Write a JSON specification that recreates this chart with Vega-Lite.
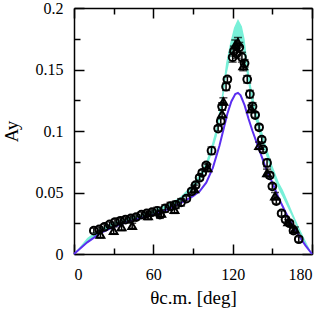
{
  "$schema": "https://vega.github.io/schema/vega-lite/v6.json",
  "width": 238,
  "height": 246,
  "autosize": "none",
  "padding": {"left": 74, "top": 8, "right": 18, "bottom": 59},
  "config": {
    "view": {"stroke": null},
    "font": "Liberation Serif",
    "axis": {"grid": false, "domainColor": "black", "tickColor": "black", "domainWidth": 1.5, "tickWidth": 1.5, "labelColor": "black", "titleColor": "black", "labelFont": "Liberation Serif", "titleFont": "Liberation Serif", "labelFontSize": 16, "titleFontSize": 19, "titleFontWeight": "normal"}
  },
  "datasets": {
    "band": [
      {"t": 0, "lo": 0, "hi": 0},
      {"t": 10, "lo": 0.009, "hi": 0.013},
      {"t": 20, "lo": 0.017, "hi": 0.021},
      {"t": 30, "lo": 0.022, "hi": 0.026},
      {"t": 40, "lo": 0.025, "hi": 0.029},
      {"t": 50, "lo": 0.028, "hi": 0.032},
      {"t": 60, "lo": 0.032, "hi": 0.036},
      {"t": 70, "lo": 0.036, "hi": 0.040},
      {"t": 80, "lo": 0.042, "hi": 0.046},
      {"t": 90, "lo": 0.052, "hi": 0.057},
      {"t": 95, "lo": 0.059, "hi": 0.065},
      {"t": 100, "lo": 0.069, "hi": 0.075},
      {"t": 104, "lo": 0.081, "hi": 0.088},
      {"t": 108, "lo": 0.096, "hi": 0.104},
      {"t": 112, "lo": 0.120, "hi": 0.130},
      {"t": 115, "lo": 0.144, "hi": 0.155},
      {"t": 118, "lo": 0.159, "hi": 0.171},
      {"t": 121, "lo": 0.170, "hi": 0.184},
      {"t": 124, "lo": 0.175, "hi": 0.191},
      {"t": 127, "lo": 0.170, "hi": 0.185},
      {"t": 129, "lo": 0.160, "hi": 0.175},
      {"t": 131, "lo": 0.144, "hi": 0.157},
      {"t": 134, "lo": 0.125, "hi": 0.136},
      {"t": 137, "lo": 0.110, "hi": 0.120},
      {"t": 141, "lo": 0.095, "hi": 0.104},
      {"t": 145, "lo": 0.081, "hi": 0.089},
      {"t": 150, "lo": 0.065, "hi": 0.072},
      {"t": 155, "lo": 0.052, "hi": 0.058},
      {"t": 158, "lo": 0.046, "hi": 0.052},
      {"t": 162, "lo": 0.037, "hi": 0.042},
      {"t": 166, "lo": 0.028, "hi": 0.032},
      {"t": 170, "lo": 0.018, "hi": 0.022},
      {"t": 175, "lo": 0.008, "hi": 0.011},
      {"t": 180, "lo": 0, "hi": 0}
    ],
    "theory": [
      {"t": 0, "a": 0},
      {"t": 10, "a": 0.0095},
      {"t": 20, "a": 0.017},
      {"t": 30, "a": 0.022},
      {"t": 40, "a": 0.026},
      {"t": 50, "a": 0.029},
      {"t": 60, "a": 0.032},
      {"t": 70, "a": 0.036},
      {"t": 80, "a": 0.041},
      {"t": 90, "a": 0.047},
      {"t": 95, "a": 0.051},
      {"t": 100, "a": 0.058},
      {"t": 105, "a": 0.070},
      {"t": 110, "a": 0.088},
      {"t": 113, "a": 0.101},
      {"t": 116, "a": 0.114},
      {"t": 119, "a": 0.124},
      {"t": 122, "a": 0.130},
      {"t": 124, "a": 0.131},
      {"t": 126, "a": 0.129},
      {"t": 129, "a": 0.121},
      {"t": 132, "a": 0.110},
      {"t": 135, "a": 0.100},
      {"t": 140, "a": 0.085},
      {"t": 145, "a": 0.070},
      {"t": 150, "a": 0.058},
      {"t": 155, "a": 0.045},
      {"t": 160, "a": 0.034},
      {"t": 165, "a": 0.024},
      {"t": 170, "a": 0.015},
      {"t": 175, "a": 0.007},
      {"t": 180, "a": 0}
    ],
    "pts": [
      {"t": 15, "a": 0.019, "lo": 0.017, "hi": 0.021, "s": "c"},
      {"t": 19, "a": 0.020, "lo": 0.018, "hi": 0.022, "s": "c"},
      {"t": 23, "a": 0.022, "lo": 0.020, "hi": 0.024, "s": "c"},
      {"t": 27, "a": 0.024, "lo": 0.022, "hi": 0.026, "s": "c"},
      {"t": 31, "a": 0.026, "lo": 0.024, "hi": 0.028, "s": "c"},
      {"t": 35, "a": 0.027, "lo": 0.025, "hi": 0.029, "s": "c"},
      {"t": 39, "a": 0.028, "lo": 0.026, "hi": 0.030, "s": "c"},
      {"t": 43, "a": 0.029, "lo": 0.027, "hi": 0.031, "s": "c"},
      {"t": 47, "a": 0.030, "lo": 0.028, "hi": 0.032, "s": "c"},
      {"t": 51, "a": 0.032, "lo": 0.030, "hi": 0.034, "s": "c"},
      {"t": 55, "a": 0.033, "lo": 0.031, "hi": 0.035, "s": "c"},
      {"t": 59, "a": 0.034, "lo": 0.032, "hi": 0.036, "s": "c"},
      {"t": 63, "a": 0.035, "lo": 0.032, "hi": 0.038, "s": "c"},
      {"t": 65, "a": 0.032, "lo": 0.029, "hi": 0.035, "s": "c"},
      {"t": 69, "a": 0.037, "lo": 0.034, "hi": 0.040, "s": "c"},
      {"t": 73, "a": 0.039, "lo": 0.036, "hi": 0.042, "s": "c"},
      {"t": 77, "a": 0.040, "lo": 0.037, "hi": 0.043, "s": "c"},
      {"t": 81, "a": 0.042, "lo": 0.039, "hi": 0.045, "s": "c"},
      {"t": 85, "a": 0.045, "lo": 0.043, "hi": 0.047, "s": "c"},
      {"t": 89, "a": 0.051, "lo": 0.049, "hi": 0.053, "s": "c"},
      {"t": 92, "a": 0.056, "lo": 0.054, "hi": 0.058, "s": "c"},
      {"t": 95, "a": 0.062, "lo": 0.060, "hi": 0.064, "s": "c"},
      {"t": 97, "a": 0.066, "lo": 0.064, "hi": 0.068, "s": "c"},
      {"t": 100, "a": 0.072, "lo": 0.070, "hi": 0.074, "s": "c"},
      {"t": 104, "a": 0.084, "lo": 0.081, "hi": 0.087, "s": "c"},
      {"t": 109, "a": 0.102, "lo": 0.100, "hi": 0.104, "s": "c"},
      {"t": 111, "a": 0.108, "lo": 0.106, "hi": 0.110, "s": "c"},
      {"t": 112, "a": 0.120, "lo": 0.117, "hi": 0.123, "s": "c"},
      {"t": 115, "a": 0.136, "lo": 0.133, "hi": 0.139, "s": "c"},
      {"t": 116, "a": 0.142, "lo": 0.140, "hi": 0.144, "s": "c"},
      {"t": 120, "a": 0.160, "lo": 0.156, "hi": 0.164, "s": "c"},
      {"t": 121, "a": 0.165, "lo": 0.161, "hi": 0.169, "s": "c"},
      {"t": 123, "a": 0.163, "lo": 0.159, "hi": 0.167, "s": "c"},
      {"t": 125, "a": 0.168, "lo": 0.164, "hi": 0.172, "s": "c"},
      {"t": 127, "a": 0.160, "lo": 0.156, "hi": 0.164, "s": "c"},
      {"t": 129, "a": 0.155, "lo": 0.152, "hi": 0.158, "s": "c"},
      {"t": 131, "a": 0.142, "lo": 0.139, "hi": 0.145, "s": "c"},
      {"t": 133, "a": 0.130, "lo": 0.127, "hi": 0.133, "s": "c"},
      {"t": 135, "a": 0.120, "lo": 0.117, "hi": 0.123, "s": "c"},
      {"t": 137, "a": 0.113, "lo": 0.111, "hi": 0.115, "s": "c"},
      {"t": 140, "a": 0.103, "lo": 0.101, "hi": 0.105, "s": "c"},
      {"t": 142, "a": 0.093, "lo": 0.091, "hi": 0.095, "s": "c"},
      {"t": 143, "a": 0.085, "lo": 0.083, "hi": 0.087, "s": "c"},
      {"t": 146, "a": 0.074, "lo": 0.071, "hi": 0.077, "s": "c"},
      {"t": 148, "a": 0.064, "lo": 0.062, "hi": 0.066, "s": "c"},
      {"t": 150, "a": 0.055, "lo": 0.053, "hi": 0.057, "s": "c"},
      {"t": 153, "a": 0.043, "lo": 0.041, "hi": 0.045, "s": "c"},
      {"t": 157, "a": 0.033, "lo": 0.031, "hi": 0.035, "s": "c"},
      {"t": 160, "a": 0.028, "lo": 0.026, "hi": 0.030, "s": "c"},
      {"t": 163, "a": 0.025, "lo": 0.023, "hi": 0.027, "s": "c"},
      {"t": 166, "a": 0.019, "lo": 0.017, "hi": 0.021, "s": "c"},
      {"t": 170, "a": 0.012, "lo": 0.010, "hi": 0.014, "s": "c"},
      {"t": 20, "a": 0.016, "lo": 0.013, "hi": 0.019, "s": "t"},
      {"t": 30, "a": 0.019, "lo": 0.016, "hi": 0.022, "s": "t"},
      {"t": 36, "a": 0.022, "lo": 0.019, "hi": 0.025, "s": "t"},
      {"t": 44, "a": 0.023, "lo": 0.021, "hi": 0.025, "s": "t"},
      {"t": 56, "a": 0.031, "lo": 0.028, "hi": 0.034, "s": "t"},
      {"t": 66, "a": 0.033, "lo": 0.030, "hi": 0.036, "s": "t"},
      {"t": 76, "a": 0.036, "lo": 0.033, "hi": 0.039, "s": "t"},
      {"t": 91, "a": 0.053, "lo": 0.050, "hi": 0.056, "s": "t"},
      {"t": 101, "a": 0.070, "lo": 0.067, "hi": 0.073, "s": "t"},
      {"t": 112, "a": 0.114, "lo": 0.111, "hi": 0.117, "s": "t"},
      {"t": 113, "a": 0.124, "lo": 0.121, "hi": 0.127, "s": "t"},
      {"t": 122, "a": 0.170, "lo": 0.166, "hi": 0.174, "s": "t"},
      {"t": 124, "a": 0.172, "lo": 0.168, "hi": 0.176, "s": "t"},
      {"t": 128, "a": 0.153, "lo": 0.149, "hi": 0.157, "s": "t"},
      {"t": 134, "a": 0.118, "lo": 0.115, "hi": 0.121, "s": "t"},
      {"t": 140, "a": 0.088, "lo": 0.085, "hi": 0.091, "s": "t"},
      {"t": 146, "a": 0.066, "lo": 0.063, "hi": 0.069, "s": "t"},
      {"t": 152, "a": 0.047, "lo": 0.044, "hi": 0.050, "s": "t"},
      {"t": 162, "a": 0.026, "lo": 0.024, "hi": 0.028, "s": "t"},
      {"t": 167, "a": 0.020, "lo": 0.018, "hi": 0.022, "s": "t"}
    ]
  },
  "resolve": {"axis": {"x": "independent", "y": "independent"}},
  "layer": [
    {
      "data": {"name": "band"},
      "mark": {"type": "area", "color": "#78F0D8", "opacity": 1},
      "encoding": {
        "x": {"field": "t", "type": "quantitative", "scale": {"domain": [0, 180], "nice": false},
          "axis": {"orient": "bottom", "values": [0, 60, 120, 180], "tickSize": -10, "labelPadding": 22, "title": "θc.m.  [deg]", "titlePadding": 6}},
        "y": {"field": "lo", "type": "quantitative", "scale": {"domain": [0, 0.2], "nice": false},
          "axis": {"orient": "left", "values": [0, 0.05, 0.1, 0.15, 0.2], "tickSize": -10, "labelPadding": 21, "format": "~g", "title": "Ay", "titlePadding": 14}},
        "y2": {"field": "hi"}
      }
    },
    {
      "data": {"name": "theory"},
      "mark": {"type": "line", "color": "#5B2EF0", "strokeWidth": 2},
      "encoding": {
        "x": {"field": "t", "type": "quantitative",
          "axis": {"orient": "bottom", "values": [30, 90, 150], "tickSize": -6, "labels": false, "domain": false, "title": null}},
        "y": {"field": "a", "type": "quantitative",
          "axis": {"orient": "left", "values": [0.025, 0.075, 0.125, 0.175], "tickSize": -6, "labels": false, "domain": false, "title": null}}
      }
    },
    {
      "data": {"name": "pts"},
      "mark": {"type": "rule", "color": "black", "strokeWidth": 1.5},
      "encoding": {
        "x": {"field": "t", "type": "quantitative",
          "axis": {"orient": "top", "values": [0, 60, 120, 180], "tickSize": -10, "labels": false, "title": null}},
        "y": {"field": "lo", "type": "quantitative",
          "axis": {"orient": "right", "values": [0, 0.05, 0.1, 0.15, 0.2], "tickSize": -10, "labels": false, "title": null}},
        "y2": {"field": "hi"}
      }
    },
    {
      "data": {"name": "pts"},
      "mark": {"type": "tick", "orient": "horizontal", "color": "black", "size": 8, "thickness": 1.5},
      "encoding": {
        "x": {"field": "t", "type": "quantitative",
          "axis": {"orient": "top", "values": [30, 90, 150], "tickSize": -6, "labels": false, "domain": false, "title": null}},
        "y": {"field": "lo", "type": "quantitative",
          "axis": {"orient": "right", "values": [0.025, 0.075, 0.125, 0.175], "tickSize": -6, "labels": false, "domain": false, "title": null}}
      }
    },
    {
      "data": {"name": "pts"},
      "mark": {"type": "tick", "orient": "horizontal", "color": "black", "size": 8, "thickness": 1.5},
      "encoding": {
        "x": {"field": "t", "type": "quantitative", "axis": null},
        "y": {"field": "hi", "type": "quantitative", "axis": null}
      }
    },
    {
      "data": {"name": "pts"},
      "transform": [{"filter": "datum.s === 'c'"}],
      "mark": {"type": "point", "shape": "circle", "filled": false, "color": "black", "strokeWidth": 2, "size": 60, "opacity": 1},
      "encoding": {
        "x": {"field": "t", "type": "quantitative", "axis": null},
        "y": {"field": "a", "type": "quantitative", "axis": null}
      }
    },
    {
      "data": {"name": "pts"},
      "transform": [{"filter": "datum.s === 't'"}],
      "mark": {"type": "point", "shape": "triangle-up", "filled": false, "color": "black", "strokeWidth": 2, "size": 60, "opacity": 1},
      "encoding": {
        "x": {"field": "t", "type": "quantitative", "axis": null},
        "y": {"field": "a", "type": "quantitative", "axis": null}
      }
    }
  ]
}
